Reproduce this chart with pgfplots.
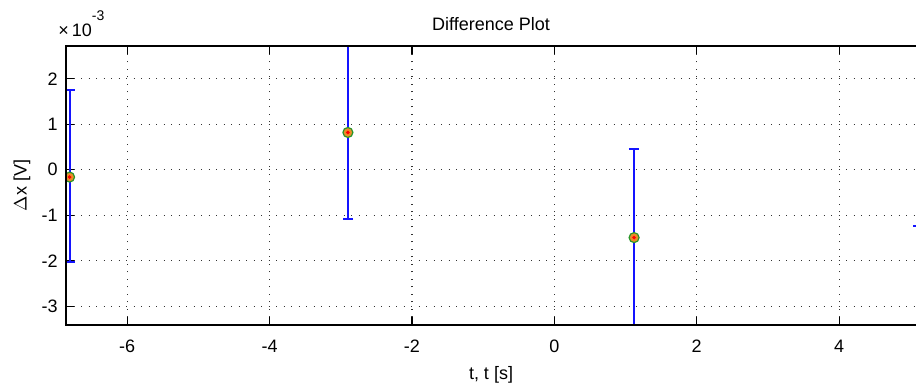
\documentclass[border=0pt]{standalone}
\usepackage{fontspec}
\setmainfont{Liberation Sans}
\usepackage{pgfplots}
\pgfplotsset{compat=1.18}
\definecolor{mkgreen}{RGB}{40,150,40}
\definecolor{mkorange}{RGB}{235,140,40}
\definecolor{ebblue}{RGB}{20,20,255}
\begin{document}
\fontsize{9pt}{11pt}\selectfont
\begin{tikzpicture}
\begin{axis}[
  scale only axis, width=425pt, height=139.5pt,
  xmin=-6.86, xmax=5.08, ymin=-0.00341, ymax=0.00272,
  xtick={-6,-4,-2,0,2,4},
  ytick={-0.003,-0.002,-0.001,0,0.001,0.002},
  scaled y ticks=base 10:3,
  ytick scale label code/.code={×\,10\raisebox{8pt}{\fontsize{7pt}{8pt}\selectfont -3}},
  every y tick scale label/.style={at={(axis description cs:0,1)}, anchor=base west, yshift=4.5pt, inner sep=0pt},
  /pgf/number format/assume math mode=true,
  xtick pos=both, ytick pos=left,
  tick align=inside, major tick length=4pt,
  tick style={black, line width=0.6pt},
  axis line style={draw=none},
  grid=major,
  major grid style={black!80, line width=0.6pt, dash pattern=on 0.6pt off 3.15pt},
  xticklabel style={anchor=base, yshift=-14pt, inner sep=0pt},
  yticklabel style={anchor=east, inner sep=0pt, xshift=-4pt},
  title={Difference Plot},
  title style={at={(axis description cs:0.5,1.0143)}, anchor=base, inner sep=0pt},
  xlabel={t, t [s]},
  xlabel style={at={(axis description cs:0.5,-0.1971)}, anchor=base, inner sep=0pt},
  ylabel={$\Delta$x [V]},
  every axis y label/.style={at={(axis description cs:-0.05176,0.5)}, rotate=90, anchor=center, inner sep=0pt},
  clip marker paths=true,
]
\addplot[draw=none, mark=none,
  error bars/.cd, y dir=both, y explicit,
  error bar style={ebblue, line width=1pt},
  error mark options={rotate=90, mark size=2.6pt, ebblue, line width=1pt}]
  table[x=x, y=y, y error=e] {
x y e
-6.81 -0.00014 0.00189
-2.90 0.00082 0.00191
1.12 -0.00149 0.00194
5.11 0.00081 0.00205
};
\addplot[only marks, mark=*, mark size=2.5pt,
  mark options={draw=mkgreen, fill=mkorange, line width=0.6pt}]
  table[x=x, y=y] {
x y
-6.81 -0.00016
-2.90 0.00082
1.12 -0.00149
5.11 0.00081
};
\addplot[only marks, mark=*, mark size=0.7pt, mark options={draw=red, fill=red}]
  table[x=x, y=y] {
x y
-6.81 -0.00016
-2.90 0.00082
1.12 -0.00149
5.11 0.00081
};
\end{axis}
\draw[black, line width=0.6pt] (current axis.north east) -- (current axis.north west) -- (current axis.south west) -- (current axis.south east);
\pgfresetboundingbox
\path[use as bounding box] ([xshift=-33pt,yshift=-32pt]current axis.south west) rectangle ([yshift=23pt]current axis.north east);
\end{tikzpicture}
\end{document}
